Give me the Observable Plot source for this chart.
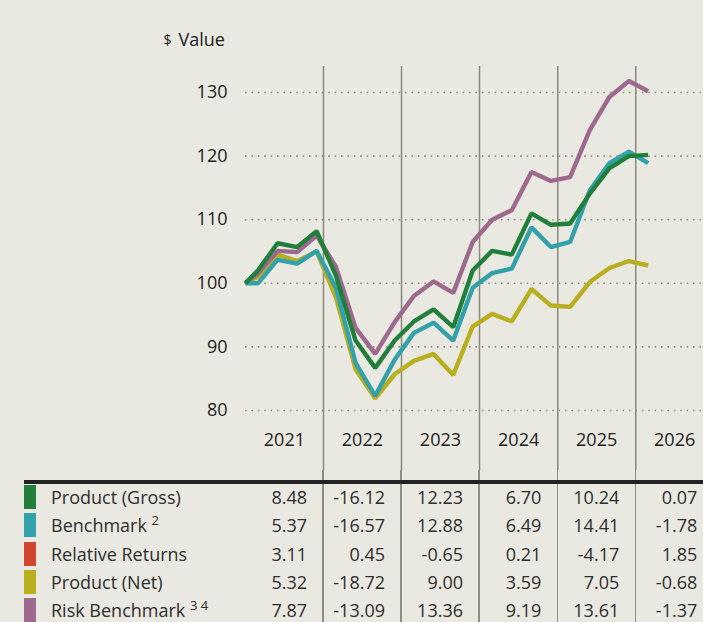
<!DOCTYPE html>
<html>
<head>
<meta charset="utf-8">
<script src="https://cdn.jsdelivr.net/npm/d3@7"></script>
<script src="https://cdn.jsdelivr.net/npm/@observablehq/plot@0.6"></script>
<style>
  html, body { margin: 0; padding: 0; background: #e9e8e1; }
  body { width: 703px; height: 622px; overflow: hidden; font-family: "Open Sans", "Noto Sans", sans-serif; color: #222; }
  #chart svg { display: block; }
  #table { position: relative; width: 703px; height: 152px; overflow: hidden; }
  #table .vline { position: absolute; top: 0; bottom: 0; width: 1.4px; background: #8e8e80; }
  #table .bar { position: absolute; top: 10px; left: 24px; right: 0; height: 4px; background: #222; }
  #table .row { position: absolute; left: 0; right: 0; height: 28.3px; }
  #table .sw { position: absolute; left: 24px; top: 1px; width: 12px; height: 24px; }
  #table .lab { position: absolute; left: 51px; top: 0; height: 26px; line-height: 26px; font-size: 18px; color: #2e2e2e; white-space: nowrap; }
  #table .lab sup { font-size: 13px; line-height: 0; vertical-align: baseline; position: relative; top: -7px; }
  #table .val { position: absolute; top: 0; line-height: 26px; font-size: 18px; color: #2e2e2e; text-align: right; white-space: nowrap; }
</style>
</head>
<body>
<div id="chart"></div>
<div id="table"></div>
<script>
// ---- data ----
const dates = ["2020-12-31","2021-02-28","2021-05-31","2021-08-31","2021-11-30",
  "2022-02-28","2022-05-31","2022-08-31","2022-11-30",
  "2023-02-28","2023-05-31","2023-08-31","2023-11-30",
  "2024-02-29","2024-05-31","2024-08-31","2024-11-30",
  "2025-02-28","2025-05-31","2025-08-31","2025-11-30","2026-02-28"];
const productGross = [100, 102, 106.3, 105.7, 108.2, 101.2, 91, 86.7, 91, 94, 95.9, 93.1, 102, 105.1, 104.5, 111, 109.2, 109.4, 114.1, 118.1, 120, 120.2];
const benchmark    = [100, 100, 103.7, 103.1, 105.1, 99.3, 87.5, 82.3, 88, 92.2, 93.8, 91, 99.3, 101.6, 102.3, 108.8, 105.7, 106.5, 114.6, 118.9, 120.7, 118.9];
const productNet   = [100, 101, 104.5, 103.5, 105, 97.8, 86.5, 81.9, 85.7, 87.8, 88.9, 85.6, 93.2, 95.2, 94, 99.1, 96.5, 96.3, 100.2, 102.4, 103.5, 102.8];
const riskBench    = [100, 101.5, 105.1, 104.9, 107.5, 102.6, 93, 88.9, 93.9, 98, 100.3, 98.5, 106.5, 110, 111.5, 117.5, 116.1, 116.7, 124.1, 129.3, 131.8, 130.2];

const years = [2021, 2022, 2023, 2024, 2025, 2026];
const yTicks = [80, 90, 100, 110, 120, 130];

const seriesNames  = ["Product (Gross)", "Benchmark", "Relative Returns", "Product (Net)", "Risk Benchmark"];
const seriesSup    = ["", "2", "", "", "3 4"];
const seriesColors = ["#217f3b", "#32a1a9", "#d2452f", "#b8ae1e", "#9d6a8d"];

const retGross     = [8.48, -16.12, 12.23, 6.70, 10.24, 0.07];
const retBenchmark = [5.37, -16.57, 12.88, 6.49, 14.41, -1.78];
const retRelative  = [3.11, 0.45, -0.65, 0.21, -4.17, 1.85];
const retNet       = [5.32, -18.72, 9.00, 3.59, 7.05, -0.68];
const retRisk      = [7.87, -13.09, 13.36, 9.19, 13.61, -1.37];
const returnsTable = [retGross, retBenchmark, retRelative, retNet, retRisk];

// ---- build long data ----
const lineSeries = [
  {name: "Product (Net)", values: productNet, color: seriesColors[3]},
  {name: "Risk Benchmark", values: riskBench, color: seriesColors[4]},
  {name: "Benchmark", values: benchmark, color: seriesColors[1]},
  {name: "Product (Gross)", values: productGross, color: seriesColors[0]}
];
const parse = d3.utcParse("%Y-%m-%d");
const boundaries = years.slice(1).map(y => new Date(Date.UTC(y, 0, 1)));
const midYears = years.map(y => ({year: y, date: new Date(Date.UTC(y, 6, 2))}));
const FONT = "'Open Sans', 'Noto Sans', sans-serif";

const marks = [
  Plot.gridY(yTicks, {stroke: "#8c8c84", strokeOpacity: 1, strokeWidth: 1.6, strokeDasharray: "1.6,4.8"}),
  Plot.ruleX(boundaries, {stroke: "#8b8b7c", strokeWidth: 1.5}),
  Plot.axisY(yTicks, {tickSize: 0, tickPadding: 18, label: null, fontSize: 18, fill: "#222"}),
  Plot.text(midYears, {x: "date", text: d => String(d.year), frameAnchor: "bottom", lineAnchor: "middle", dy: -30, fontSize: 18, fill: "#222"}),
  Plot.text(["$"], {frameAnchor: "top-left", lineAnchor: "middle", dx: -82, dy: -26, textAnchor: "start", fontSize: 14, fill: "#222"}),
  Plot.text(["Value"], {frameAnchor: "top-left", lineAnchor: "middle", dx: -67, dy: -26, textAnchor: "start", fontSize: 18, fill: "#222"})
];
for (const s of lineSeries) {
  marks.push(Plot.line(dates.map((d, i) => ({date: parse(d), value: s.values[i]})), {
    x: "date", y: "value", stroke: s.color, strokeWidth: 4.4, strokeLinejoin: "miter", strokeLinecap: "butt"
  }));
}

const chart = Plot.plot({
  width: 703,
  height: 470,
  marginTop: 66,
  marginBottom: 0,
  marginLeft: 245,
  marginRight: 0,
  style: {background: "transparent", fontFamily: FONT, fontSize: "18px", color: "#222"},
  x: {type: "utc", domain: [new Date(Date.UTC(2021, 0, 1)), new Date(Date.UTC(2026, 10, 14))], axis: null},
  y: {domain: [80, 130], range: [410, 92], axis: null},
  marks
});
document.getElementById("chart").appendChild(chart);

// ---- table positioned with the chart's x scale ----
const xs = chart.scale("x");
const tbl = document.getElementById("table");
for (const b of boundaries) {
  const v = document.createElement("div");
  v.className = "vline";
  v.style.left = (xs.apply(b) - 0.7) + "px";
  tbl.appendChild(v);
}
const bar = document.createElement("div");
bar.className = "bar";
tbl.appendChild(bar);
seriesNames.forEach((name, r) => {
  const row = document.createElement("div");
  row.className = "row";
  row.style.top = (14 + r * 28.3) + "px";
  const sw = document.createElement("div");
  sw.className = "sw";
  sw.style.background = seriesColors[r];
  row.appendChild(sw);
  const lab = document.createElement("div");
  lab.className = "lab";
  lab.textContent = name;
  if (seriesSup[r]) {
    lab.appendChild(document.createTextNode(" "));
    const sup = document.createElement("sup");
    sup.textContent = seriesSup[r];
    lab.appendChild(sup);
  }
  row.appendChild(lab);
  years.forEach((y, c) => {
    const x0 = xs.apply(new Date(Date.UTC(y, 0, 1)));
    const x1 = xs.apply(new Date(Date.UTC(y + 1, 0, 1)));
    const val = document.createElement("div");
    val.className = "val";
    val.style.left = x0 + "px";
    val.style.width = (x1 - x0 - 16) + "px";
    val.textContent = returnsTable[r][c].toFixed(2);
    row.appendChild(val);
  });
  tbl.appendChild(row);
});
</script>
</body>
</html>
